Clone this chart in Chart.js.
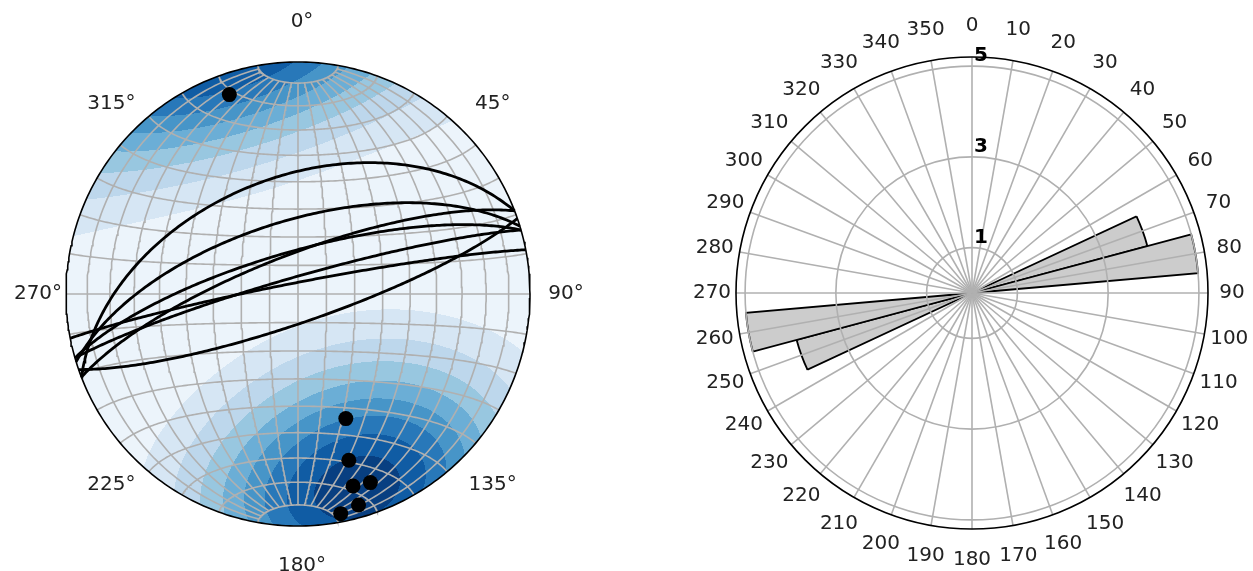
<!DOCTYPE html>
<html>
<head>
<meta charset="utf-8">
<script src="https://cdn.jsdelivr.net/npm/chart.js@4.4.0/dist/chart.umd.min.js"></script>
<style>
  html, body { margin: 0; padding: 0; background: #fff; }
  body { width: 1253px; height: 571px; position: relative; overflow: hidden; }
  .box { position: absolute; top: 0; height: 571px; }
  #netBox { left: 0; width: 600px; }
  #roseBox { left: 692px; width: 561px; }
</style>
</head>
<body>
<div class="box" id="netBox"><canvas id="net"></canvas></div>
<div class="box" id="roseBox"><canvas id="rose"></canvas></div>
<script>
// planes, right-hand-rule strike / dip
const strikes = [249, 253, 254, 249, 259, 254, 71];
const dips = [48, 64, 75, 76, 86, 84, 80];

// azimuth labels round the net
const azimuthTicks = [0, 45, 90, 135, 180, 225, 270, 315];
// density contour interval (one band per unit)
const contourStep = 1;

// rose diagram, 10 degree bins centred on 0, 10, ... 350
const roseBins = [0, 10, 20, 30, 40, 50, 60, 70, 80, 90, 100, 110, 120, 130, 140, 150, 160, 170,
                  180, 190, 200, 210, 220, 230, 240, 250, 260, 270, 280, 290, 300, 310, 320, 330, 340, 350];
const roseCounts = [0, 0, 0, 0, 0, 0, 0, 4, 5, 0, 0, 0, 0, 0, 0, 0, 0, 0,
                    0, 0, 0, 0, 0, 0, 0, 4, 5, 0, 0, 0, 0, 0, 0, 0, 0, 0];
const roseRings = [1, 3, 5];

const FONT = '20px "DejaVu Sans", sans-serif';
const GRID = '#b0b0b0';
const rad = d => d * Math.PI / 180;

// lower hemisphere, equal area (Schmidt) projection of a unit vector east/north/down
function project(e, n, d) {
    if (d < 0) { e = -e; n = -n; d = -d; }
    const k = 1 / Math.sqrt(1 + d);
    return { x: e * k, y: n * k };
}

function lineVec(trend, plunge) {
    return [Math.cos(rad(plunge)) * Math.sin(rad(trend)),
            Math.cos(rad(plunge)) * Math.cos(rad(trend)),
            Math.sin(rad(plunge))];
}

// point of the net grid, lon/lat with 0,0 in the middle
function netPoint(lon, lat) {
    return project(Math.cos(rad(lat)) * Math.sin(rad(lon)),
                   Math.sin(rad(lat)),
                   Math.cos(rad(lat)) * Math.cos(rad(lon)));
}

function greatCircle(strike, dip) {
    const sv = lineVec(strike, 0);
    const dv = lineVec(strike + 90, dip);
    const pts = [];
    for (let t = 0; t <= 180; t += 1) {
        const c = Math.cos(rad(t)), s = Math.sin(rad(t));
        pts.push(project(c * sv[0] + s * dv[0], c * sv[1] + s * dv[1], c * sv[2] + s * dv[2]));
    }
    return pts;
}

// exponential kamb density of the poles (sigma 3)
const poleVecs = strikes.map((s, i) => lineVec(s - 90, 90 - dips[i]));
const sigma = 3;
const nPts = poleVecs.length;
const kf = 2 * (1 + nPts / (sigma * sigma));
const units = Math.sqrt(nPts * (kf / 2 - 1) / (kf * kf));
function density(e, n, d) {
    let sum = 0;
    poleVecs.forEach(v => { sum += Math.exp(kf * (Math.abs(e * v[0] + n * v[1] + d * v[2]) - 1)); });
    return Math.max(0, (sum - 0.5) / units);
}

let zmin = Infinity, zmax = -Infinity;
for (let i = 0; i < 100; i++) {
    for (let j = 0; j < 100; j++) {
        const lon = rad(-90 + 180 * i / 99), lat = rad(-90 + 180 * j / 99);
        const z = density(Math.cos(lat) * Math.sin(lon), Math.sin(lat), Math.cos(lat) * Math.cos(lon));
        zmin = Math.min(zmin, z); zmax = Math.max(zmax, z);
    }
}
const levels = [];
for (let v = Math.floor(zmin / contourStep) * contourStep; v < zmax + contourStep; v += contourStep) levels.push(v);

const bluesHex = ['#f7fbff', '#deebf7', '#c6dbef', '#9ecae1', '#6baed6', '#4292c6', '#2171b5', '#08519c', '#08306b'];
function blues(t) {
    const p = Math.min(Math.max(t, 0), 1) * 8;
    const i = Math.min(Math.floor(p), 7), f = p - i;
    const a = bluesHex[i], b = bluesHex[i + 1];
    const ch = k => Math.round(parseInt(a.substr(k, 2), 16) * (1 - f) + parseInt(b.substr(k, 2), 16) * f);
    return 'rgb(' + ch(1) + ',' + ch(3) + ',' + ch(5) + ')';
}
const nBands = levels.length - 1;
const bandColors = [];
for (let k = 0; k < nBands; k++) bandColors.push(blues((k + 0.5) / nBands));
function bandOf(z) {
    for (let k = nBands - 1; k >= 0; k--) if (z >= levels[k]) return k;
    return 0;
}

// net grid: meridians stop at 80 degrees, parallels every 10
const gridSets = [];
for (let lon = -80; lon <= 80; lon += 10) {
    const pts = [];
    for (let lat = -80; lat <= 80; lat += 1) pts.push(netPoint(lon, lat));
    gridSets.push(pts);
}
for (let lat = -80; lat <= 80; lat += 10) {
    const pts = [];
    for (let lon = -90; lon <= 90; lon += 1) pts.push(netPoint(lon, lat));
    gridSets.push(pts);
}
const primitive = [];
for (let a = 0; a <= 360; a += 1) primitive.push({ x: Math.sin(rad(a)), y: Math.cos(rad(a)) });

const lineDefaults = { showLine: true, pointRadius: 0, tension: 0, clip: false, fill: false };
const netDatasets = [];
netDatasets.push({ data: poleVecs.map(v => project(v[0], v[1], v[2])),
    showLine: false, pointRadius: 7.5, pointBackgroundColor: '#000', pointBorderWidth: 0, clip: false, order: 0 });
netDatasets.push({ ...lineDefaults, data: primitive, borderColor: '#000', borderWidth: 1.6, order: 1 });
strikes.forEach((s, i) => netDatasets.push({ ...lineDefaults, data: greatCircle(s, dips[i]), borderColor: '#000', borderWidth: 2.8, order: 2 }));
gridSets.forEach(pts => netDatasets.push({ ...lineDefaults, data: pts, borderColor: GRID, borderWidth: 1.6, order: 3 }));

const netPlugin = {
    id: 'netExtras',
    beforeDatasetsDraw(chart) {
        const { ctx, scales: { x, y } } = chart;
        const cx = x.getPixelForValue(0), cy = y.getPixelForValue(0);
        const R = x.getPixelForValue(1) - cx;
        ctx.save();
        ctx.beginPath();
        ctx.arc(cx, cy, R, 0, 2 * Math.PI);
        ctx.clip();
        for (let py = Math.floor(cy - R) - 1; py <= cy + R + 1; py++) {
            let runStart = null, runBand = -1;
            for (let px = Math.floor(cx - R) - 1; px <= cx + R + 2; px++) {
                const vx = x.getValueForPixel(px + 0.5), vy = y.getValueForPixel(py + 0.5);
                const r2 = Math.min(vx * vx + vy * vy, 1);
                let band = -1;
                if (vx * vx + vy * vy <= 1.03) {
                    const d = 1 - r2, k = Math.sqrt(1 + d);
                    band = bandOf(density(vx * k, vy * k, d));
                }
                if (band !== runBand) {
                    if (runBand >= 0) { ctx.fillStyle = bandColors[runBand]; ctx.fillRect(runStart, py, px - runStart, 1); }
                    runStart = px; runBand = band;
                }
            }
            if (runBand >= 0) { ctx.fillStyle = bandColors[runBand]; ctx.fillRect(runStart, py, Math.ceil(cx + R + 3) - runStart, 1); }
        }
        ctx.restore();
    },
    afterDraw(chart) {
        const { ctx, scales: { x, y } } = chart;
        ctx.save();
        ctx.font = FONT;
        ctx.fillStyle = '#222';
        ctx.textAlign = 'center';
        ctx.textBaseline = 'middle';
        const cx = x.getPixelForValue(0), cy = y.getPixelForValue(0);
        azimuthTicks.forEach(a => {
            const off = 264 + 8 * Math.abs(Math.cos(rad(a)));
            ctx.fillText(a + '\u00b0', cx + 4 + off * Math.sin(rad(a)), cy - off * Math.cos(rad(a)));
        });
        ctx.restore();
    }
};

new Chart(document.getElementById('net'), {
    type: 'scatter',
    data: { datasets: netDatasets },
    options: {
        responsive: true,
        maintainAspectRatio: false,
        animation: false,
        layout: { padding: { left: 66, right: 70, top: 62, bottom: 45 } },
        scales: {
            x: { type: 'linear', min: -1, max: 1, display: false },
            y: { type: 'linear', min: -1, max: 1, display: false }
        },
        plugins: { legend: { display: false }, tooltip: { enabled: false } }
    },
    plugins: [netPlugin]
});

// rose diagram: grid drawn over the bars, labels at the bin centres
const rosePlugin = {
    id: 'roseExtras',
    afterDatasetsDraw(chart) {
        const { ctx } = chart;
        const r = chart.scales.r;
        ctx.save();
        ctx.strokeStyle = GRID;
        ctx.lineWidth = 1.6;
        roseRings.forEach(v => {
            ctx.beginPath();
            ctx.arc(r.xCenter, r.yCenter, r.getDistanceFromCenterForValue(v), 0, 2 * Math.PI);
            ctx.stroke();
        });
        roseBins.forEach((b, i) => {
            const p = r.getPointPosition(i, r.drawingArea, rad(5));
            ctx.beginPath();
            ctx.moveTo(r.xCenter, r.yCenter);
            ctx.lineTo(p.x, p.y);
            ctx.stroke();
        });
        ctx.strokeStyle = '#000';
        ctx.beginPath();
        ctx.arc(r.xCenter, r.yCenter, r.drawingArea, 0, 2 * Math.PI);
        ctx.stroke();
        ctx.restore();
    },
    afterDraw(chart) {
        const { ctx } = chart;
        const r = chart.scales.r;
        ctx.save();
        ctx.font = FONT;
        ctx.fillStyle = '#222';
        ctx.textAlign = 'center';
        ctx.textBaseline = 'middle';
        roseBins.forEach((b, i) => {
            const off = 24 + 7 * Math.abs(Math.cos(rad(b)));
            const p = r.getPointPosition(i, r.drawingArea + off, rad(5));
            ctx.fillText(String(b), p.x, p.y);
        });
        ctx.font = 'bold ' + FONT;
        ctx.fillStyle = '#000';
        roseRings.forEach(v => {
            ctx.fillText(String(v), r.xCenter + 9, r.yCenter - r.getDistanceFromCenterForValue(v) - 10);
        });
        ctx.restore();
    }
};

new Chart(document.getElementById('rose'), {
    type: 'polarArea',
    data: {
        labels: roseBins.map(String),
        datasets: [{
            data: roseCounts,
            backgroundColor: '#cccccc',
            borderColor: '#000',
            borderWidth: c => (c.raw > 0 ? 1.8 : 0),
            borderJoinStyle: 'miter'
        }]
    },
    options: {
        responsive: true,
        maintainAspectRatio: false,
        animation: false,
        layout: { padding: { left: 44, right: 45, top: 57, bottom: 42 } },
        scales: {
            r: {
                min: 0,
                max: 5.2,
                startAngle: -5,
                grid: { display: false },
                angleLines: { display: false },
                ticks: { display: false },
                pointLabels: { display: false }
            }
        },
        plugins: { legend: { display: false }, tooltip: { enabled: false } }
    },
    plugins: [rosePlugin]
});
</script>
</body>
</html>
